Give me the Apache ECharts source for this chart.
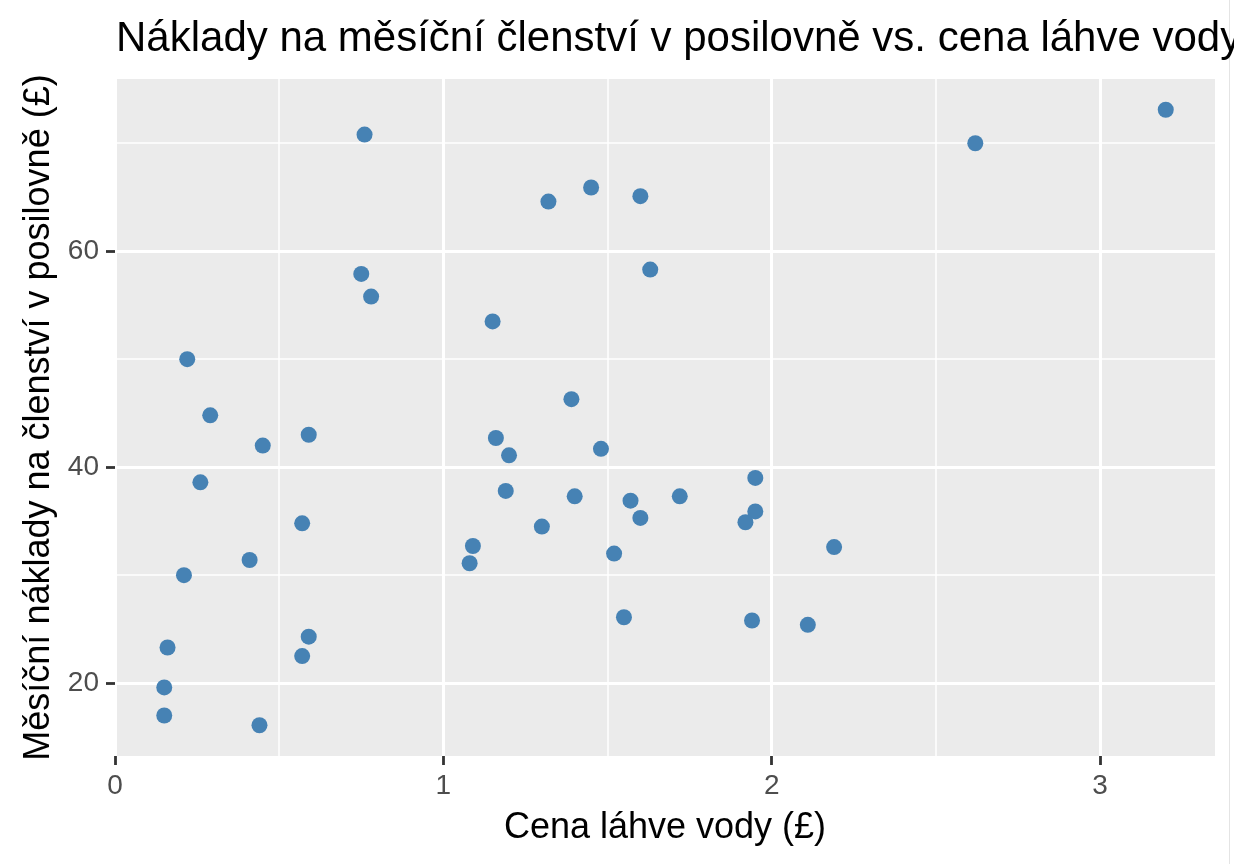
<!DOCTYPE html>
<html>
<head>
<meta charset="utf-8">
<script src="https://cdn.jsdelivr.net/npm/echarts@6/dist/echarts.min.js"></script>
<style>
  html, body { margin: 0; padding: 0; background: #fff; }
  #chart { width: 1234px; height: 864px; }
</style>
</head>
<body>
<div id="chart"></div>
<script>
// cena láhve vody (£) a měsíční náklady na posilovnu (£)
var waterPrice = [0.76, 2.62, 3.20, 1.45, 1.32, 1.60, 1.63, 0.75, 0.78, 1.15,
                  0.22, 1.39, 0.29, 0.45, 0.59, 1.16, 1.20, 1.48, 0.26, 1.19,
                  1.40, 1.57, 1.72, 1.95, 1.95, 1.92, 1.60, 1.30, 0.57, 1.09,
                  1.08, 1.52, 2.19, 0.41, 0.21, 1.55, 1.94, 2.11, 0.59, 0.57,
                  0.16, 0.15, 0.15, 0.44];
var gymCost = [70.8, 70.0, 73.1, 65.9, 64.6, 65.1, 58.3, 57.9, 55.8, 53.5,
               50.0, 46.3, 44.8, 42.0, 43.0, 42.7, 41.1, 41.7, 38.6, 37.8,
               37.3, 36.9, 37.3, 39.0, 35.9, 34.9, 35.3, 34.5, 34.8, 32.7,
               31.1, 32.0, 32.6, 31.4, 30.0, 26.1, 25.8, 25.4, 24.3, 22.5,
               23.3, 19.6, 17.0, 16.1];

var xTicks = [0, 1, 2, 3];
var xMinor = [0.5, 1.5, 2.5];
var yTicks = [20, 40, 60];
var yMinor = [30, 50, 70];

var xRange = [0, 3.35];
var yRange = [13.25, 75.95];

var FONT = "'Liberation Sans', Arial, sans-serif";

var points = waterPrice.map(function (x, i) { return [x, gymCost[i]]; });

var chart = echarts.init(document.getElementById('chart'));

function majorAxis(ticks, range, name, gap, isY) {
  return {
    type: 'value',
    position: isY ? 'left' : 'bottom',
    offset: 0,
    min: range[0],
    max: range[1],
    name: name,
    nameLocation: 'middle',
    nameGap: gap,
    nameRotate: isY ? 90 : 0,
    nameTextStyle: { fontFamily: FONT, fontSize: 36, color: '#000' },
    axisLine: { show: false },
    axisTick: {
      show: true,
      inside: false,
      customValues: ticks,
      length: 9,
      lineStyle: { color: '#333', width: 2.8 }
    },
    axisLabel: {
      customValues: ticks,
      fontFamily: FONT,
      fontSize: 28,
      color: '#4d4d4d',
      margin: 16
    },
    splitLine: { show: true, lineStyle: { color: '#fff', width: 3 } }
  };
}

function minorAxis(ticks, range, isY) {
  return {
    type: 'value',
    position: isY ? 'left' : 'bottom',
    offset: 0,
    min: range[0],
    max: range[1],
    axisLine: { show: false },
    axisTick: { show: false, customValues: ticks },
    axisLabel: { show: false },
    splitLine: { show: true, lineStyle: { color: '#fff', width: 1.5 } }
  };
}

chart.setOption({
  backgroundColor: '#fff',
  animation: false,
  title: {
    text: 'Náklady na měsíční členství v posilovně vs. cena láhve vody',
    left: 116,
    top: 18,
    padding: 0,
    textStyle: { fontFamily: FONT, fontSize: 42, fontWeight: 'normal', color: '#000' }
  },
  grid: {
    left: 115,
    right: 19,
    top: 79,
    bottom: 108,
    show: true,
    backgroundColor: '#ebebeb',
    borderWidth: 0
  },
  xAxis: [
    minorAxis(xMinor, xRange, false),
    majorAxis(xTicks, xRange, 'Cena láhve vody (£)', 54, false)
  ],
  yAxis: [
    minorAxis(yMinor, yRange, true),
    majorAxis(yTicks, yRange, 'Měsíční náklady na členství v posilovně (£)', 56, true)
  ],
  series: [
    {
      type: 'scatter',
      xAxisIndex: 1,
      yAxisIndex: 1,
      data: points,
      symbolSize: 16,
      itemStyle: { color: '#4682b4', opacity: 1 }
    }
  ],
  graphic: [
    {
      type: 'line',
      shape: { x1: 1229.5, y1: 0, x2: 1229.5, y2: 864 },
      style: { stroke: '#e4e4e4', lineWidth: 1 }
    }
  ]
});
</script>
</body>
</html>
